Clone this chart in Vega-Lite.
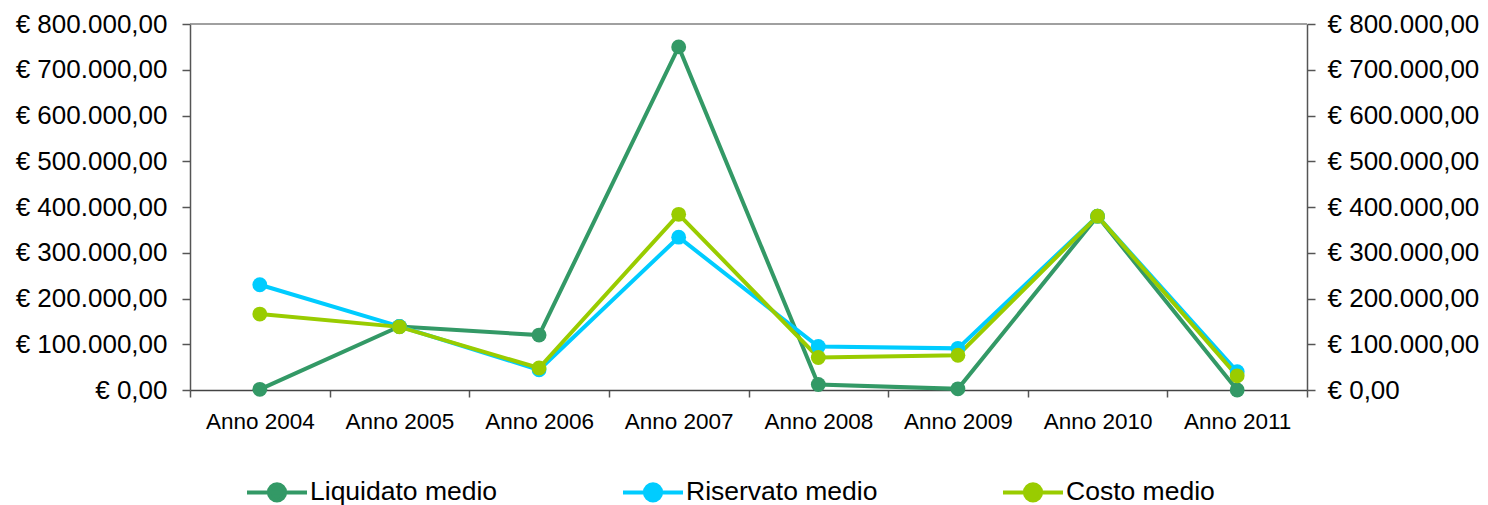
{
  "$schema": "https://vega.github.io/schema/vega-lite/v6.json",
  "autosize": {"type": "none"},
  "width": 1117,
  "height": 366,
  "padding": {"left": 190, "top": 24, "right": 181, "bottom": 115},
  "background": "white",
  "config": {
    "view": {"stroke": null},
    "font": "Liberation Sans",
    "axis": {
      "labelFont": "Liberation Sans",
      "labelColor": "#000000",
      "domainColor": "#555555",
      "tickColor": "#555555",
      "domainWidth": 1.5,
      "tickWidth": 1.5,
      "grid": false,
      "title": null
    }
  },
  "data": {
    "values": [
      {"anno": "Anno 2004", "serie": "Liquidato medio", "valore": 1500},
      {"anno": "Anno 2005", "serie": "Liquidato medio", "valore": 139000},
      {"anno": "Anno 2006", "serie": "Liquidato medio", "valore": 120000},
      {"anno": "Anno 2007", "serie": "Liquidato medio", "valore": 750000},
      {"anno": "Anno 2008", "serie": "Liquidato medio", "valore": 12000},
      {"anno": "Anno 2009", "serie": "Liquidato medio", "valore": 2500},
      {"anno": "Anno 2010", "serie": "Liquidato medio", "valore": 380000},
      {"anno": "Anno 2011", "serie": "Liquidato medio", "valore": 0},
      {"anno": "Anno 2004", "serie": "Riservato medio", "valore": 230000},
      {"anno": "Anno 2005", "serie": "Riservato medio", "valore": 139000},
      {"anno": "Anno 2006", "serie": "Riservato medio", "valore": 44000},
      {"anno": "Anno 2007", "serie": "Riservato medio", "valore": 334000},
      {"anno": "Anno 2008", "serie": "Riservato medio", "valore": 95000},
      {"anno": "Anno 2009", "serie": "Riservato medio", "valore": 91000},
      {"anno": "Anno 2010", "serie": "Riservato medio", "valore": 380000},
      {"anno": "Anno 2011", "serie": "Riservato medio", "valore": 40000},
      {"anno": "Anno 2004", "serie": "Costo medio", "valore": 166000},
      {"anno": "Anno 2005", "serie": "Costo medio", "valore": 138000},
      {"anno": "Anno 2006", "serie": "Costo medio", "valore": 48000},
      {"anno": "Anno 2007", "serie": "Costo medio", "valore": 384000},
      {"anno": "Anno 2008", "serie": "Costo medio", "valore": 71000},
      {"anno": "Anno 2009", "serie": "Costo medio", "valore": 76000},
      {"anno": "Anno 2010", "serie": "Costo medio", "valore": 380000},
      {"anno": "Anno 2011", "serie": "Costo medio", "valore": 31000}
    ]
  },
  "encoding": {
    "x": {
      "field": "anno",
      "type": "ordinal",
      "sort": null,
      "scale": {"type": "band", "paddingInner": 0, "paddingOuter": 0},
      "axis": {
        "labelAngle": 0,
        "labelFontSize": 22.5,
        "tickBand": "extent",
        "tickSize": 7,
        "labelPadding": 13,
        "domainColor": "#444444"
      }
    }
  },
  "layer": [
    {
      "data": {"values": [{"top": 800000}]},
      "mark": {"type": "rule", "color": "#808080", "strokeWidth": 1.5},
      "encoding": {
        "x": null,
        "y": {
          "field": "top",
          "type": "quantitative",
          "scale": {"domain": [0, 800000], "nice": false, "zero": true},
          "axis": {
            "orient": "right",
            "values": [0, 100000, 200000, 300000, 400000, 500000, 600000, 700000, 800000],
            "labelExpr": "'€ ' + replace(replace(replace(format(datum.value, ',.2f'), ',', '#'), '.', ','), '#', '.')",
            "labelFontSize": 26,
            "tickSize": 8,
            "labelPadding": 12
          }
        }
      }
    },
    {
      "mark": {"type": "line", "strokeWidth": 4},
      "encoding": {
        "y": {
          "field": "valore",
          "type": "quantitative",
          "scale": {"domain": [0, 800000], "nice": false, "zero": true},
          "axis": {
            "orient": "left",
            "values": [0, 100000, 200000, 300000, 400000, 500000, 600000, 700000, 800000],
            "labelExpr": "'€ ' + replace(replace(replace(format(datum.value, ',.2f'), ',', '#'), '.', ','), '#', '.')",
            "labelFontSize": 26,
            "tickSize": 8,
            "labelPadding": 15
          }
        },
        "color": {
          "field": "serie",
          "type": "nominal",
          "sort": ["Liquidato medio", "Riservato medio", "Costo medio"],
          "scale": {
            "domain": ["Liquidato medio", "Riservato medio", "Costo medio"],
            "range": ["#339966", "#00CCFF", "#99CC00"]
          },
          "legend": {
            "orient": "none",
            "legendX": 55,
            "legendY": 436,
            "direction": "horizontal",
            "title": null,
            "labelFontSize": 26.5,
            "labelFont": "Liberation Sans",
            "labelColor": "#000000",
            "labelLimit": 400,
            "columnPadding": 117,
            "symbolType": "M-1,0H1M-0.27,0A0.27,0.27 0 1,1 0.27,0A0.27,0.27 0 1,1 -0.27,0Z",
            "symbolSize": 3600,
            "symbolStrokeWidth": 4,
            "symbolOffset": 0,
            "labelOffset": 1,
            "encode": {
              "symbols": {
                "update": {
                  "fill": {"scale": "color", "field": "value"},
                  "stroke": {"scale": "color", "field": "value"},
                  "fillOpacity": {"value": 1}
                }
              }
            }
          }
        },
        "order": {"field": "serie"}
      }
    },
    {
      "mark": {"type": "point", "filled": true, "size": 220, "opacity": 1},
      "encoding": {
        "y": {"field": "valore", "type": "quantitative", "scale": {"domain": [0, 800000], "nice": false, "zero": true}, "axis": null},
        "color": {"field": "serie", "type": "nominal", "sort": ["Liquidato medio", "Riservato medio", "Costo medio"], "legend": null}
      }
    }
  ],
  "resolve": {"axis": {"y": "independent"}}
}
